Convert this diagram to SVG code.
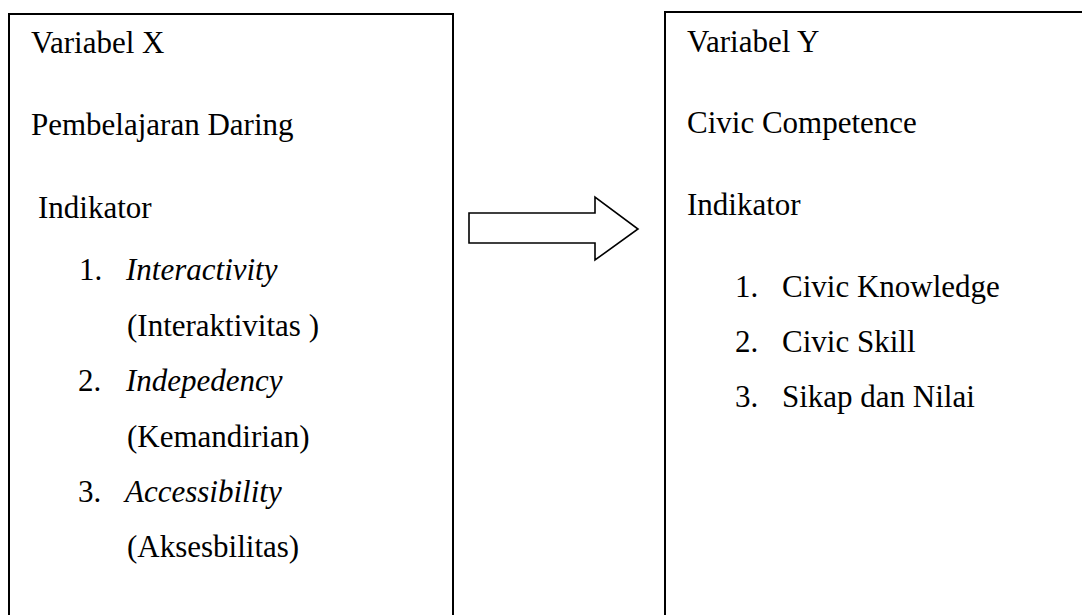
<svg xmlns="http://www.w3.org/2000/svg" width="1082" height="615" viewBox="0 0 1082 615">
<style>
.box{fill:#fff;stroke:#000;stroke-width:2}
.t{font-family:"Liberation Serif","Times New Roman",serif;font-size:31px;fill:#000}
.i{font-style:italic}
.arrow{fill:#fff;stroke:#000;stroke-width:1.6;stroke-linejoin:miter}
</style>
<rect width="1082" height="615" fill="#fff"/>
<g id="node-x">
<rect class="box" x="9" y="14" width="444" height="640"/>
<text class="t" x="31" y="53">Variabel X</text>
<text class="t" x="31" y="135">Pembelajaran Daring</text>
<text class="t" x="38" y="218">Indikator</text>
<text class="t" x="79" y="280">1.</text>
<text class="t i" x="126" y="280">Interactivity</text>
<text class="t" x="127" y="336">(Interaktivitas )</text>
<text class="t" x="78" y="391">2.</text>
<text class="t i" x="126" y="391">Indepedency</text>
<text class="t" x="127" y="447">(Kemandirian)</text>
<text class="t" x="78" y="502">3.</text>
<text class="t i" x="125" y="502">Accessibility</text>
<text class="t" x="127" y="557">(Aksesbilitas)</text>
</g>
<g id="node-y">
<rect class="box" x="665" y="12" width="440" height="640"/>
<text class="t" x="687" y="52">Variabel Y</text>
<text class="t" x="687" y="133">Civic Competence</text>
<text class="t" x="687" y="215">Indikator</text>
<text class="t" x="735" y="297">1.</text>
<text class="t" x="782" y="297">Civic Knowledge</text>
<text class="t" x="735" y="352">2.</text>
<text class="t" x="782" y="352">Civic Skill</text>
<text class="t" x="735" y="407">3.</text>
<text class="t" x="782" y="407">Sikap dan Nilai</text>
</g>
<g id="connectors">
<polygon class="arrow" points="469,213 595,213 595,197 638,229 595,260 595,243 469,243"/>
</g>
</svg>
